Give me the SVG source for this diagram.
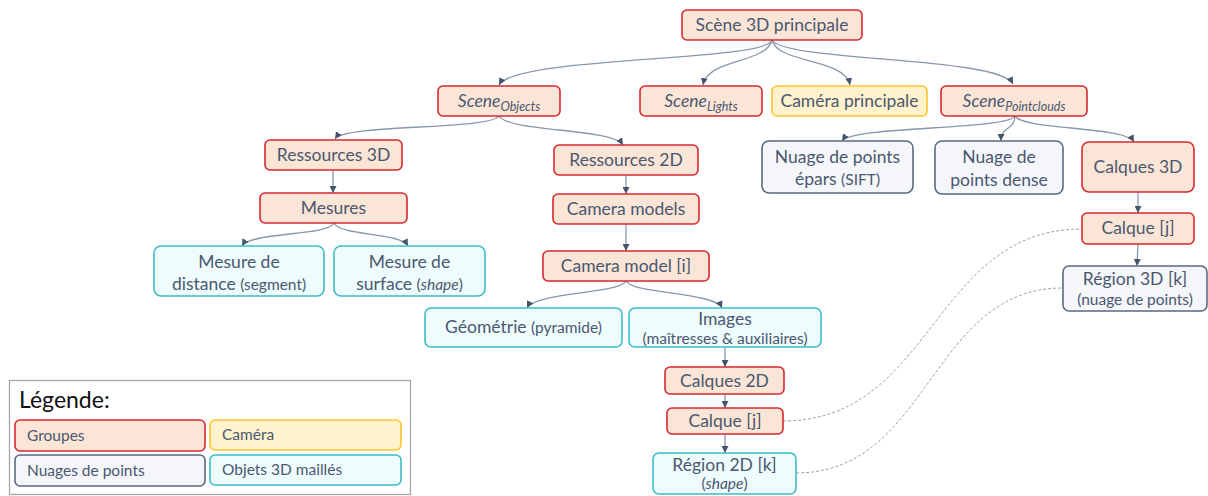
<svg xmlns="http://www.w3.org/2000/svg" width="1208" height="496" viewBox="0 0 1208 496">
<style>
text{font-family:Lato,"Open Sans","Liberation Sans",sans-serif;fill:#4a5870;text-anchor:middle}
.t{font-size:17.5px}
.s{font-size:15.5px}
.i{font-style:italic}
.grp{fill:#fbe5d6;stroke:#d9282e;stroke-width:1.6}
.cam{fill:#fff2cc;stroke:#ffc52a;stroke-width:1.6}
.pc{fill:#f4f6f9;stroke:#5a6a80;stroke-width:1.6}
.mesh{fill:#effcfd;stroke:#3cbcc8;stroke-width:1.6}
.c{fill:none;stroke:#8a97a8;stroke-width:1.3;marker-end:url(#a)}
.d{fill:none;stroke:#9aa3ad;stroke-width:1;stroke-dasharray:3 2}
</style>
<defs>
<marker id="a" viewBox="0 0 10 10" refX="10" refY="5" markerWidth="7" markerHeight="7" orient="auto" markerUnits="userSpaceOnUse">
<path d="M0,0 L10,5 L0,10 z" fill="#44546a"/>
</marker>
</defs>
<rect width="1208" height="496" fill="#fff"/>
<g id="connectors">
<path class="c" d="M772,40 C766,62 515,56 499,85"/>
<path class="c" d="M772,40 C766,64 708,58 703,85"/>
<path class="c" d="M772,40 C778,64 845,58 850,85"/>
<path class="c" d="M772,40 C785,62 998,56 1013,84"/>
<path class="c" d="M499,116 C490,130 345,124 335,139"/>
<path class="c" d="M499,116 C508,132 612,128 623,145"/>
<path class="c" d="M333,170 L333,193"/>
<path class="c" d="M334,223 C328,236 250,232 242,246"/>
<path class="c" d="M334,223 C340,236 400,232 408,246"/>
<path class="c" d="M626,175 L626,194"/>
<path class="c" d="M626,224 L626,251"/>
<path class="c" d="M626,281 C620,294 535,292 527,308"/>
<path class="c" d="M626,281 C632,294 715,292 722,308"/>
<path class="c" d="M725,347 L725,367"/>
<path class="c" d="M725,394 L725,408"/>
<path class="c" d="M725,434 L725,453"/>
<path class="c" d="M1015,116 C1008,130 852,126 842,141"/>
<path class="c" d="M1015,116 C1015,130 1001,126 1001,141"/>
<path class="c" d="M1015,116 C1022,130 1125,126 1134,142"/>
<path class="c" d="M1138,192 L1138,213"/>
<path class="c" d="M1138,244 L1137,266"/>
<path class="d" d="M783,421 C933,421 933,229 1082,229"/>
<path class="d" d="M796,473 C930,473 930,288 1063,288"/>
</g>
<g id="n-scene"><rect class="grp" x="682" y="10" width="180" height="30" rx="5"/><text class="t" x="772" y="31">Scène 3D principale</text></g>
<g id="n-objects"><rect class="grp" x="438" y="86" width="122" height="30" rx="5"/><text x="499" y="107"><tspan class="t i">Scene</tspan><tspan class="i" font-size="12.5" dy="4">Objects</tspan></text></g>
<g id="n-lights"><rect class="grp" x="640" y="86" width="122" height="30" rx="5"/><text x="701" y="107"><tspan class="t i">Scene</tspan><tspan class="i" font-size="12.5" dy="4">Lights</tspan></text></g>
<g id="n-camera"><rect class="cam" x="772" y="86" width="155" height="30" rx="5"/><text class="t" x="849.5" y="107">Caméra principale</text></g>
<g id="n-pointclouds"><rect class="grp" x="941" y="86" width="146" height="30" rx="5"/><text x="1014" y="107"><tspan class="t i">Scene</tspan><tspan class="i" font-size="12.5" dy="4">Pointclouds</tspan></text></g>
<g id="n-res3d"><rect class="grp" x="265" y="140" width="137" height="30" rx="5"/><text class="t" x="333.5" y="161">Ressources 3D</text></g>
<g id="n-res2d"><rect class="grp" x="554" y="145" width="144" height="30" rx="5"/><text class="t" x="626" y="166">Ressources 2D</text></g>
<g id="n-sift"><rect class="pc" x="762" y="141" width="151" height="52" rx="7"/><text class="t" x="837.5" y="163">Nuage de points</text><text x="837.5" y="185"><tspan class="t">épars </tspan><tspan class="s">(SIFT)</tspan></text></g>
<g id="n-dense"><rect class="pc" x="935" y="141" width="128" height="53" rx="7"/><text class="t" x="999" y="163">Nuage de</text><text class="t" x="999" y="186">points dense</text></g>
<g id="n-calques3d"><rect class="grp" x="1082" y="142" width="112" height="50" rx="7"/><text class="t" x="1138" y="173">Calques 3D</text></g>
<g id="n-mesures"><rect class="grp" x="260" y="193" width="147" height="30" rx="5"/><text class="t" x="333.5" y="214">Mesures</text></g>
<g id="n-cammodels"><rect class="grp" x="553" y="194" width="146" height="30" rx="5"/><text class="t" x="626" y="215">Camera models</text></g>
<g id="n-calque3d"><rect class="grp" x="1082" y="213" width="112" height="31" rx="5"/><text class="t" x="1138" y="234">Calque [j]</text></g>
<g id="n-distance"><rect class="mesh" x="154" y="246" width="170" height="50" rx="7"/><text class="t" x="239" y="268">Mesure de</text><text x="239" y="290"><tspan class="t">distance </tspan><tspan class="s">(segment)</tspan></text></g>
<g id="n-surface"><rect class="mesh" x="334" y="246" width="151" height="50" rx="7"/><text class="t" x="409.5" y="268">Mesure de</text><text x="409.5" y="290"><tspan class="t">surface </tspan><tspan class="s">(</tspan><tspan class="s i">shape</tspan><tspan class="s">)</tspan></text></g>
<g id="n-cammodel"><rect class="grp" x="543" y="251" width="166" height="30" rx="5"/><text class="t" x="626" y="272">Camera model [i]</text></g>
<g id="n-region3d"><rect class="pc" x="1063" y="266" width="144" height="45" rx="6"/><text class="t" x="1135" y="285">Région 3D [k]</text><text class="s" x="1135" y="305">(nuage de points)</text></g>
<g id="n-geometrie"><rect class="mesh" x="425" y="308" width="197" height="39" rx="6"/><text x="523.5" y="333"><tspan class="t">Géométrie </tspan><tspan class="s">(pyramide)</tspan></text></g>
<g id="n-images"><rect class="mesh" x="629" y="308" width="192" height="39" rx="6"/><text class="t" x="725" y="325">Images</text><text class="s" x="725" y="344">(maîtresses &amp; auxiliaires)</text></g>
<g id="n-calques2d"><rect class="grp" x="665" y="367" width="119" height="27" rx="5"/><text class="t" x="724.5" y="387">Calques 2D</text></g>
<g id="n-calque2d"><rect class="grp" x="667" y="408" width="116" height="26" rx="5"/><text class="t" x="725" y="427">Calque [j]</text></g>
<g id="n-region2d"><rect class="mesh" x="653" y="453" width="143" height="41" rx="6"/><text class="t" x="724.5" y="471">Région 2D [k]</text><text class="s" x="724.5" y="489">(<tspan class="i">shape</tspan>)</text></g>
<g id="legend">
<rect x="9.5" y="380.5" width="401" height="114" fill="#fff" stroke="#a6a6a6" stroke-width="1.3"/>
<text x="19" y="408" font-size="23" style="fill:#111;text-anchor:start">Légende:</text>
<rect class="grp" x="15" y="420" width="190" height="31" rx="5"/><text class="s" x="27" y="441" style="text-anchor:start">Groupes</text>
<rect class="cam" x="210" y="420" width="191" height="30" rx="5"/><text class="s" x="222" y="440" style="text-anchor:start">Caméra</text>
<rect class="pc" x="15" y="455" width="190" height="31" rx="5"/><text class="s" x="27" y="476" style="text-anchor:start">Nuages de points</text>
<rect class="mesh" x="210" y="455" width="191" height="30" rx="5"/><text class="s" x="222" y="475" style="text-anchor:start">Objets 3D maillés</text>
</g>
</svg>
